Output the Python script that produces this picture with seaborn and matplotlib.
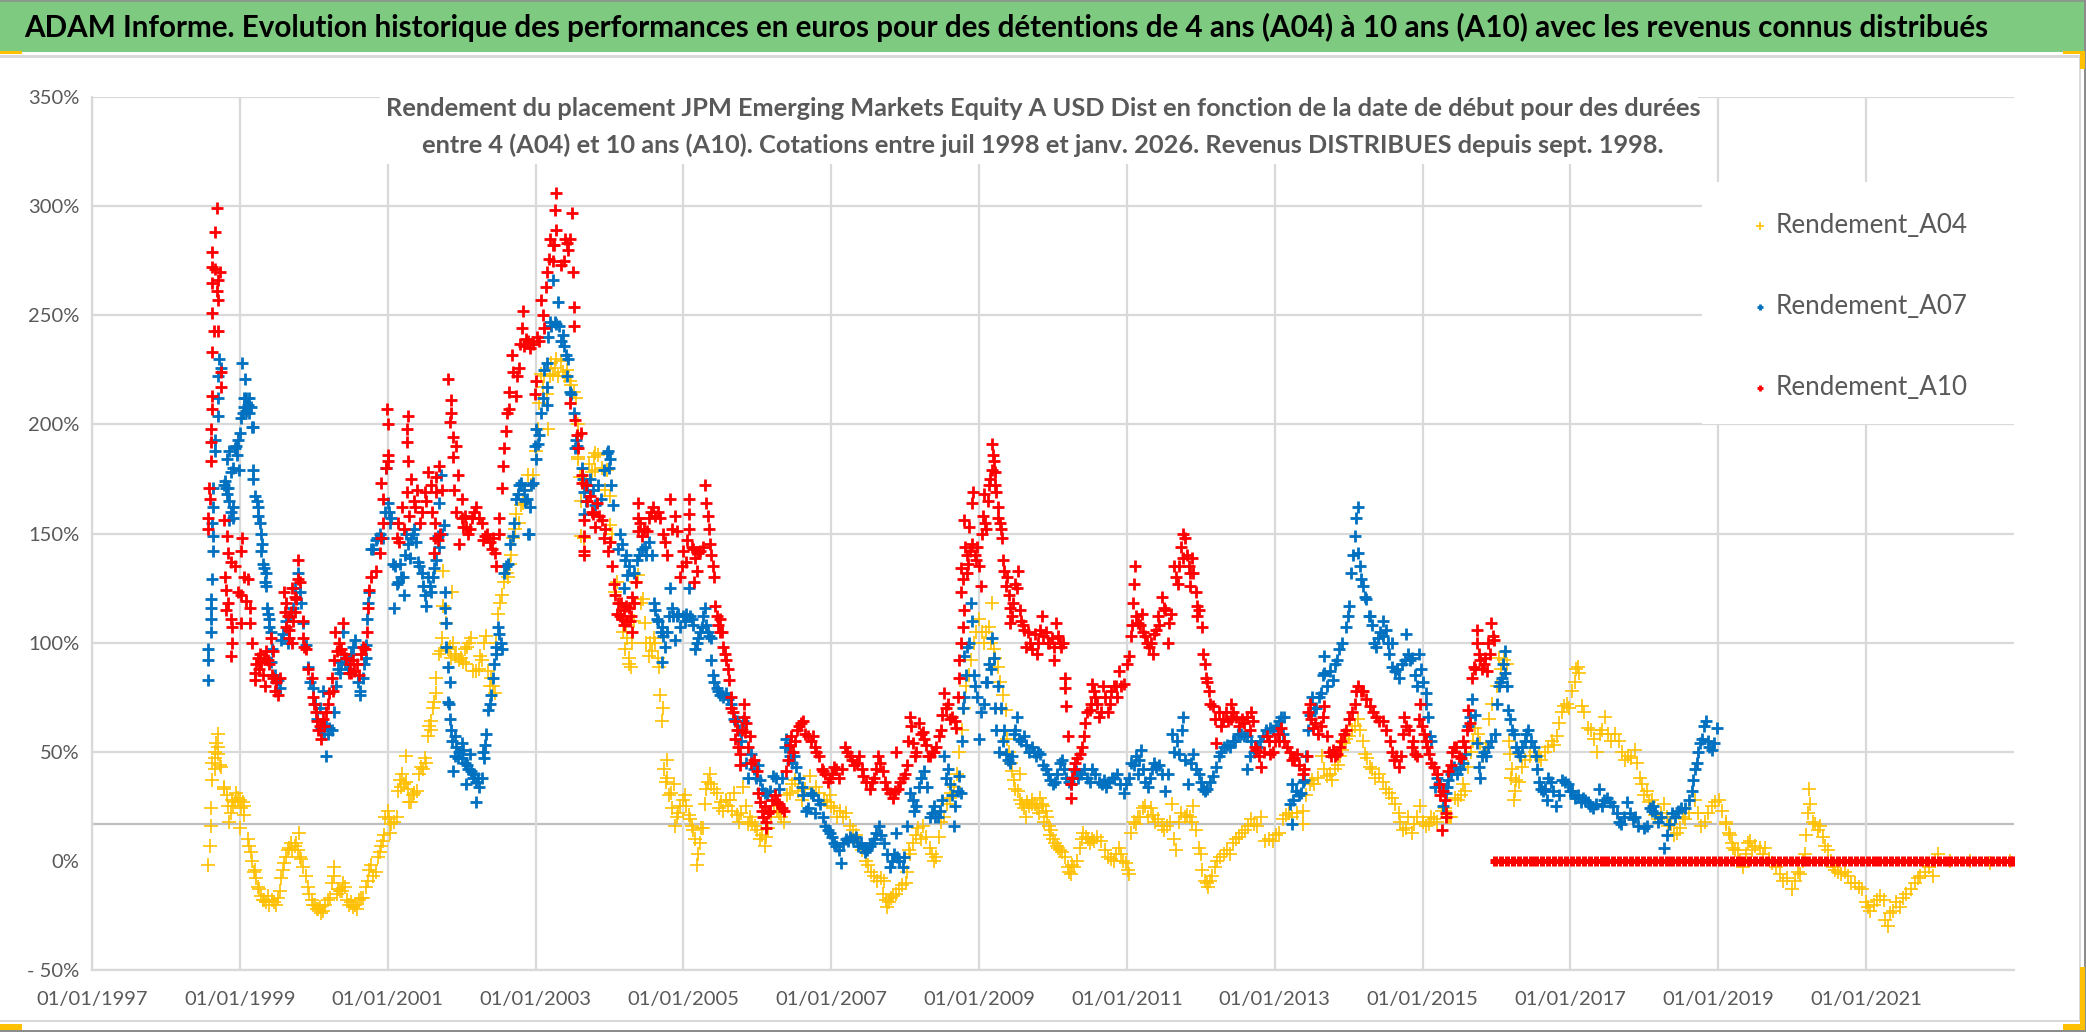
import matplotlib
matplotlib.use("Agg")
import matplotlib.pyplot as plt
from matplotlib.patches import Rectangle
import pandas as pd
import seaborn as sns

# Values: (date as decimal year, return in %)
a04_points = [
    (1998.57,-2),(1998.59,7),(1998.61,16),(1998.61,24),(1998.63,37),(1998.63,45),(1998.70,58),(1998.70,52),(1998.75,43),(1998.66,50),
    (1998.79,34),(1998.86,18),(1998.91,25),(1998.97,29),(1999.04,27),(1999.06,21),(1999.00,15),(1999.11,10),(1999.15,4),(1999.21,-4),
    (1999.24,-12),(1999.33,-18),(1999.40,-20),(1999.49,-20),(1999.54,-14),(1999.58,-4),(1999.65,5),(1999.74,7),(1999.80,13),(1999.83,1),
    (1999.89,-7),(1999.97,-18),(2000.06,-22),(2000.12,-23),(2000.19,-18),(2000.28,-3),(2000.35,-14),(2000.42,-12),(2000.53,-21),(2000.64,-17),
    (2000.73,-9),(2000.75,-4),(2000.84,-5),(2000.91,7),(2001.00,23),(2001.03,13),(2001.12,20),(2001.16,37),(2001.25,48),(2001.25,36),
    (2001.32,27),(2001.39,32),(2001.45,43),(2001.52,45),(2001.54,57),(2001.59,64),(2001.63,73),(2001.66,84),(2001.70,95),(2001.75,117),
    (2001.75,133),(2001.87,123),(2001.79,109),(2001.84,98),(2001.93,95),(2002.04,97),(2002.13,102),(2002.06,90),(2002.20,87),(2002.27,92),
    (2002.33,103),(2002.40,84),(2002.45,77),(2002.49,113),(2002.63,130),(2002.65,136),(2002.72,152),(2002.74,159),(2002.83,164),(2002.97,177),
    (2003.00,188),(2003.08,223),(2003.15,214),(2003.17,198),(2003.24,223),(2003.28,230),(2003.37,224),(2003.48,218),(2003.55,212),(2003.57,184),
    (2003.66,148),(2003.80,187),(2003.62,149),(2003.58,185),(2003.79,185),(2003.81,179),(2003.97,179),(2004.01,167),(2004.01,154),(2003.65,148),
    (2004.08,123),(2004.39,131),(2004.45,120),(2004.48,109),(2004.24,102),(2004.26,93),(2004.29,89),(2004.55,100),(2004.62,100),(2004.53,94),
    (2004.67,89),(2004.69,76),(2004.72,70),(2004.71,64),(2004.78,46),(2004.78,38),(2004.87,35),(2004.80,30),(2005.02,30),(2004.91,20),
    (2004.89,16),(2005.07,21),(2005.11,16),(2005.26,15),(2005.20,3),(2005.19,-2),(2005.29,26),(2005.36,40),(2005.45,31),(2005.54,23),
    (2005.63,28),(2005.72,21),(2005.81,34),(2005.90,20),(2005.97,16),(2006.10,7),(2006.12,11),(2006.26,23),(2006.36,18),(2006.44,31),
    (2006.51,37),(2006.71,39),(2006.84,31),(2006.98,30),(2007.04,24),(2007.16,20),(2007.25,16),(2007.38,8),(2007.47,0),(2007.58,-7),
    (2007.72,-9),(2007.76,-21),(2007.83,-16),(2007.92,-13),(2008.01,-10),(2008.03,-5),(2008.10,8),(2008.24,16),(2008.28,11),(2008.39,0),
    (2008.46,11),(2008.57,26),(2008.62,31),(2008.73,50),(2008.82,80),(2008.89,92),(2009.00,111),(2009.13,107),(2009.17,118),(2009.20,97),
    (2009.25,89),(2009.36,69),(2009.38,56),(2009.45,41),(2009.49,33),(2009.58,26),(2009.72,28),(2009.85,26),(2009.94,16),(2010.03,8),
    (2009.56,40),(2009.63,20),(2009.71,26),(2009.83,29),(2009.90,23),(2009.97,14),(2010.07,6),(2010.16,2),(2010.24,-6),(2010.33,0),
    (2010.41,13),(2010.50,8),(2010.65,9),(2010.82,0),(2010.89,6),(2010.99,-1),(2011.03,-6),(2011.06,13),(2011.15,20),(2011.25,25),
    (2011.32,24),(2011.47,16),(2011.61,26),(2011.66,5),(2011.78,20),(2011.90,25),(2011.93,14),(2012.00,3),(2012.02,-4),(2012.10,-12),
    (2012.19,-3),(2012.31,3),(2012.43,8),(2012.56,13),(2012.68,19),(2012.81,20),(2012.87,9),(2012.97,9),(2013.11,19),(2013.23,20),
    (2013.38,23),(2013.38,17),(2013.47,35),(2013.64,48),(2013.71,39),(2013.81,42),(2013.91,51),(2014.01,57),(2014.13,65),(2014.20,55),
    (2014.22,49),(2014.29,43),(2014.41,40),(2014.58,29),(2014.68,22),(2014.73,14),(2014.85,13),(2014.97,25),(2015.04,16),(2015.16,19),
    (2015.26,23),(2015.38,20),(2015.37,20),(2015.44,29),(2015.58,32),(2015.62,43),(2015.71,61),(2015.78,54),(2015.94,72),(2016.00,80),
    (2016.03,93),(2016.14,90),(2016.18,49),(2016.21,42),(2016.23,28),(2016.27,37),(2016.39,46),(2016.57,48),(2016.70,52),(2016.82,57),
    (2016.84,63),(2016.91,71),(2017.02,78),(2017.10,89),(2017.15,71),(2017.24,61),(2017.36,50),(2017.47,66),(2017.51,58),(2017.65,55),
    (2017.74,46),(2017.87,51),(2017.94,38),(2018.03,32),(2018.10,28),(2018.26,26),(2018.32,16),(2018.44,13),(2018.55,19),(2018.68,28),
    (2018.77,16),(2018.91,25),(2019.01,28),(2019.11,17),(2019.16,12),(2019.20,6),(2019.26,5),(2019.33,-3),(2019.43,9),(2019.63,6),
    (2019.73,-1),(2019.83,-6),(2020.00,-13),(2020.11,-6),(2020.17,3),(2020.23,33),(2020.24,26),(2020.31,17),(2020.19,12),(2020.41,11),
    (2020.48,5),(2020.58,-4),(2020.75,-7),(2020.85,-10),(2020.95,-13),(2021.05,-23),(2021.19,-16),(2021.29,-30),(2021.36,-23),(2021.46,-21),
    (2021.60,-13),(2021.73,-7),(2021.90,-7),(2021.97,3),(2022.14,0),(2022.41,0),(2022.68,-1),(2022.95,0),
    # second pass over the dense part of the ribbon
    (1998.66,42),(1998.67,47),(1998.68,54),(1998.71,49),(1998.73,44),(1998.78,33),(1998.82,30),(1998.84,25),(1998.88,22),(1998.90,28),
    (1998.93,27),(1998.95,31),(1999.00,28),(1999.02,24),(1999.05,25),(1999.13,7),(1999.17,0),(1999.19,-5),(1999.22,-8),(1999.26,-13),
    (1999.29,-16),(1999.31,-18),(1999.36,-19),(1999.38,-16),(1999.43,-18),(1999.46,-19),(1999.51,-17),(1999.56,-8),(1999.60,-1),(1999.62,2),
    (1999.67,6),(1999.69,8),(1999.71,5),(1999.76,8),(1999.78,5),(1999.81,2),(1999.86,-3),(1999.92,-12),(1999.94,-15),(1999.99,-20),
    (2000.02,-20),(2000.04,-22),(2000.08,-21),(2000.10,-24),(2000.15,-20),(2000.22,-17),(2000.25,-10),(2000.27,-7),(2000.31,-15),(2000.33,-13),
    (2000.38,-14),(2000.40,-10),(2000.45,-18),(2000.48,-20),(2000.50,-19),(2000.56,-20),(2000.59,-22),(2000.61,-18),(2000.67,-17),(2000.70,-12),
    (2000.78,-2),(2000.80,-7),(2000.87,2),(2000.89,4),(2000.93,9),(2000.95,12),(2000.97,20),(2001.02,19),(2001.05,17),(2001.08,18),
    (2001.14,32),(2001.18,34),(2001.20,40),(2001.22,35),(2001.27,33),(2001.29,27),(2001.34,30),(2001.36,31),(2001.42,40),(2001.48,42),
    (2001.50,47),(2001.56,62),(2001.58,60),(2001.61,70),(2001.65,77),(2001.72,96),(2001.74,102),(2001.82,97),(2001.86,93),(2001.89,100),
    (2001.91,94),(2001.96,92),(2001.99,93),(2002.02,91),(2002.07,98),(2002.10,100),(2002.16,87),(2002.23,88),(2002.25,94),(2002.30,100),
    (2002.36,87),(2002.38,80),(2002.42,80),(2002.47,100),(2002.52,118),(2002.55,122),(2002.58,128),(2002.61,132),(2002.67,140),(2002.70,148),
    (2002.77,155),(2002.80,163),(2002.86,170),(2002.90,177),(2002.94,172),(2003.03,198),(2003.05,210),(2003.10,217),(2003.12,222),(2003.19,222),
    (2003.21,228),(2003.26,226),(2003.31,222),(2003.34,229),(2003.40,222),(2003.43,225),(2003.46,220),(2003.52,215),(2003.58,200),(2003.60,176),
    (2003.62,165),(2003.72,182),(2003.76,178),(2003.84,186),(2003.90,180),(2003.94,170),(2004.04,150),(2004.10,128),(2004.14,118),(2004.18,105),
    (2004.21,97),(2004.23,108),(2004.27,90),(2004.30,100),(2004.33,110),(2004.36,128),(2004.42,118),(2004.50,100),(2004.57,96),(2004.60,102),
    (2004.65,93),(2004.74,42),(2004.76,36),(2004.83,31),(2004.85,24),(2004.93,22),(2004.95,25),(2004.99,28),(2005.04,25),(2005.09,19),
    (2005.13,14),(2005.16,10),(2005.22,8),(2005.24,15),(2005.31,33),(2005.33,36),(2005.38,35),(2005.41,33),(2005.48,24),(2005.51,27),
    (2005.57,28),(2005.60,25),(2005.66,23),(2005.69,31),(2005.75,18),(2005.78,22),(2005.85,25),(2005.88,17),(2005.93,18),(2006.00,14),
    (2006.03,10),(2006.07,12),(2006.15,15),(2006.19,20),(2006.22,25),(2006.29,22),(2006.32,20),(2006.40,30),(2006.47,35),(2006.55,32),
    (2006.60,28),(2006.65,33),(2006.75,30),(2006.80,34),(2006.90,28),(2006.94,27),(2007.00,25),(2007.08,20),(2007.12,23),(2007.20,22),
    (2007.30,14),(2007.34,12),(2007.42,5),(2007.50,-2),(2007.54,-5),(2007.62,-9),(2007.67,-8),(2007.70,-15),(2007.74,-18),(2007.78,-19),
    (2007.81,-17),(2007.87,-15),(2007.96,-11),(2008.05,5),(2008.07,3),(2008.14,12),(2008.18,15),(2008.21,10),(2008.33,6),(2008.36,3),
    (2008.42,2),(2008.49,18),(2008.53,20),(2008.60,29),(2008.66,34),(2008.70,40),(2008.77,60),(2008.79,70),(2008.86,85),(2008.93,100),
    (2008.96,105),(2009.04,105),(2009.07,100),(2009.10,105),(2009.16,100),(2009.22,93),(2009.28,82),(2009.32,76),(2009.40,50),(2009.43,45),
    (2009.47,37),(2009.52,32),(2009.55,28),(2009.61,24),(2009.65,27),(2009.68,25),(2009.75,26),(2009.78,24),(2009.81,22),(2009.87,25),
    (2009.88,18),(2009.92,20),(2009.96,12),(2010.00,10),(2010.05,7),(2010.09,5),(2010.12,4),(2010.20,-3),(2010.22,-5),(2010.26,-2),
    (2010.29,-3),(2010.36,6),(2010.39,10),(2010.44,11),(2010.47,10),(2010.53,10),(2010.56,9),(2010.60,11),(2010.70,5),(2010.74,2),
    (2010.78,1),(2010.85,3),(2010.92,3),(2010.95,0),(2011.01,-4),(2011.09,18),(2011.12,17),(2011.18,20),(2011.22,24),(2011.28,20),
    (2011.35,21),(2011.38,18),(2011.42,19),(2011.50,14),(2011.54,16),(2011.58,18),(2011.64,10),(2011.70,18),(2011.73,22),(2011.81,21),
    (2011.85,20),(2011.88,18),(2011.97,6),(2012.05,-9),(2012.08,-10),(2012.12,-9),(2012.15,-7),(2012.22,0),(2012.26,2),(2012.36,5),
    (2012.40,3),(2012.48,10),(2012.52,11),(2012.60,14),(2012.64,16),(2012.72,17),(2012.76,16),(2012.92,10),(2013.02,12),(2013.06,13),
    (2013.15,21),(2013.19,22),(2013.30,22),(2013.42,30),(2013.50,37),(2013.53,35),(2013.58,38),(2013.66,42),(2013.75,40),(2013.78,37),
    (2013.85,44),(2013.88,48),(2013.94,54),(2013.97,56),(2014.05,60),(2014.09,62),(2014.15,60),(2014.25,47),(2014.32,42),(2014.36,38),
    (2014.46,36),(2014.50,33),(2014.54,31),(2014.63,26),(2014.70,18),(2014.77,15),(2014.80,20),(2014.89,17),(2014.93,20),(2015.00,18),
    (2015.08,17),(2015.12,20),(2015.20,18),(2015.30,24),(2015.34,20),(2015.48,28),(2015.52,30),(2015.55,35),(2015.65,50),(2015.68,55),
    (2015.75,58),(2015.82,48),(2015.86,52),(2015.90,65),(2016.06,88),(2016.10,92),(2016.17,55),(2016.19,38),(2016.25,32),(2016.30,36),
    (2016.35,43),(2016.45,48),(2016.52,50),(2016.60,46),(2016.65,50),(2016.75,55),(2016.78,53),(2016.88,68),(2016.95,72),(2016.98,70),
    (2017.06,82),(2017.08,88),(2017.12,86),(2017.18,68),(2017.28,60),(2017.32,56),(2017.40,58),(2017.43,60),(2017.55,55),(2017.60,58),
    (2017.70,50),(2017.78,48),(2017.82,47),(2017.90,45),(2017.97,35),(2018.00,30),(2018.06,27),(2018.14,21),(2018.18,19),(2018.22,22),
    (2018.30,20),(2018.36,17),(2018.40,12),(2018.48,15),(2018.52,20),(2018.60,22),(2018.73,22),(2018.82,18),(2018.86,22),(2018.95,27),
    (2019.05,23),(2019.10,18),(2019.14,13),(2019.18,8),(2019.23,5),(2019.30,0),(2019.37,3),(2019.40,8),(2019.46,5),(2019.50,7),
    (2019.56,6),(2019.60,3),(2019.68,1),(2019.78,-3),(2019.88,-9),(2019.93,-8),(2020.04,-9),(2020.08,-5),(2020.14,0),(2020.21,22),
    (2020.28,18),(2020.35,14),(2020.38,16),(2020.45,7),(2020.52,0),(2020.55,-3),(2020.62,-5),(2020.66,-6),(2020.71,-5),(2020.80,-10),
    (2020.90,-12),(2021.00,-19),(2021.02,-21),(2021.10,-20),(2021.14,-18),(2021.24,-18),(2021.32,-24),(2021.26,-27),(2021.40,-19),(2021.50,-17),
    (2021.54,-15),(2021.66,-10),(2021.70,-8),(2021.80,-5),(2021.85,-3),(2021.93,0),
]

a07_points = [
    (1998.57,83),(1998.57,92),(1998.57,97),(1998.61,105),(1998.61,111),(1998.61,116),(1998.61,120),(1998.62,129),(1998.64,142),(1998.64,149),
    (1998.63,155),(1998.64,162),(1998.64,171),(1998.66,188),(1998.66,193),(1998.70,204),(1998.70,212),(1998.70,222),(1998.72,230),(1998.75,226),
    (1998.79,172),(1998.84,171),(1998.86,165),(1998.91,162),(1998.86,156),(1998.91,157),(1998.82,184),(1998.91,180),(1998.86,188),(1998.93,189),
    (1998.97,193),(1998.99,179),(1999.00,196),(1999.04,205),(1999.06,212),(1999.11,209),(1999.15,208),(1999.07,221),(1999.03,228),(1999.18,199),
    (1999.18,179),(1999.18,175),(1999.21,167),(1999.24,162),(1999.27,155),(1999.28,150),(1999.29,142),(1999.31,136),(1999.35,132),(1999.36,126),
    (1999.37,116),(1999.39,111),(1999.42,105),(1999.42,91),(1999.49,82),(1999.54,79),(1999.56,101),(1999.65,100),(1999.72,116),(1999.78,132),
    (1999.81,123),(1999.85,109),(1999.89,99),(1999.99,79),(2000.08,70),(2000.12,78),(2000.17,62),(2000.17,48),(2000.24,60),(2000.28,68),
    (2000.35,86),(2000.39,105),(2000.51,95),(2000.56,101),(2000.63,76),(2000.66,84),(2000.71,93),(2000.71,99),(2000.72,111),(2000.75,123),
    (2000.78,143),(2000.84,147),(2000.93,148),(2000.98,180),(2001.00,164),(2001.05,157),(2001.07,136),(2001.09,116),(2001.12,127),(2001.21,130),
    (2001.22,122),(2001.16,136),(2001.25,150),(2001.34,150),(2001.30,139),(2001.43,135),(2001.48,126),(2001.52,117),(2001.54,130),(2001.61,130),
    (2001.59,123),(2001.68,149),(2001.70,144),(2001.70,164),(2001.76,154),(2001.72,177),(2001.77,116),(2001.77,123),(2001.79,109),(2001.79,98),
    (2001.81,89),(2001.84,82),(2001.81,73),(2001.84,65),(2001.91,57),(2001.91,48),(2001.88,41),(2002.00,54),(2002.04,45),(2002.11,49),
    (2002.06,35),(2002.13,41),(2002.20,36),(2002.19,27),(2002.27,38),(2002.29,50),(2002.33,58),(2002.36,69),(2002.40,76),(2002.42,84),
    (2002.47,98),(2002.49,107),(2002.55,97),(2002.58,132),(2002.63,136),(2002.69,149),(2002.90,150),(2002.74,166),(2002.81,173),(2002.88,166),
    (2002.97,173),(2002.92,162),(2003.00,198),(2003.03,191),(2003.01,184),(2003.08,205),(2003.15,228),(2003.15,217),(2003.15,209),(2003.19,247),
    (2003.24,266),(2003.28,246),(2003.30,256),(2003.37,241),(2003.39,236),(2003.44,230),(2003.48,214),(2003.55,193),(2003.64,175),(2003.54,189),
    (2003.63,180),(2003.65,169),(2003.65,159),(2003.74,175),(2003.85,172),(2003.96,187),(2004.01,184),(2004.02,172),(2004.05,163),(2003.92,179),
    (2004.12,143),(2004.21,138),(2004.24,131),(2004.19,125),(2004.37,138),(2004.44,143),(2004.53,146),(2004.57,140),(2004.60,118),(2004.64,111),
    (2004.71,107),(2004.78,105),(2004.89,101),(2004.75,98),(2004.71,91),(2004.82,125),(2004.84,116),(2004.93,113),(2004.96,107),(2005.04,113),
    (2005.07,125),(2005.11,111),(2005.16,97),(2005.22,105),(2005.29,116),(2005.31,108),(2005.38,102),(2005.38,92),(2005.40,85),(2005.45,79),
    (2005.54,75),(2005.61,74),(2005.72,64),(2005.81,64),(2005.92,49),(2006.01,44),(2005.88,38),(2006.10,31),(2006.21,39),(2006.30,33),
    (2006.39,56),(2006.44,48),(2006.53,43),(2006.60,34),(2006.66,23),(2006.73,31),(2006.82,28),(2006.89,20),(2006.98,13),(2007.07,7),
    (2007.13,-1),(2007.20,10),(2007.29,10),(2007.40,8),(2007.49,5),(2007.58,10),(2007.65,16),(2007.72,8),(2007.79,-3),(2007.88,13),
    (2007.89,2),(2007.97,-3),(2008.03,16),(2008.06,31),(2008.12,23),(2008.19,34),(2008.26,41),(2008.30,34),(2008.39,25),(2008.33,20),
    (2008.44,20),(2008.53,48),(2008.55,38),(2008.66,16),(2008.64,30),(2008.73,39),(2008.75,31),(2008.80,75),(2008.80,94),(2008.84,98),
    (2008.89,118),(2008.91,110),(2008.93,85),(2009.00,56),(2009.07,72),(2009.11,82),(2009.18,102),(2009.20,93),(2009.25,80),(2009.29,70),
    (2009.37,49),(2009.42,45),(2009.51,66),(2009.61,57),(2009.71,52),(2009.83,49),(2009.90,42),(2010.00,35),(2010.12,46),(2010.24,35),
    (2010.38,40),(2010.53,42),(2010.62,36),(2010.72,34),(2010.86,40),(2010.96,31),(2011.06,45),(2011.19,51),(2011.15,40),(2011.28,34),
    (2011.40,43),(2011.52,32),(2011.61,58),(2011.76,66),(2011.71,49),(2011.83,35),(2011.90,49),(2011.93,42),(2012.05,32),(2012.17,39),
    (2012.24,48),(2012.31,52),(2012.46,55),(2012.58,57),(2012.63,42),(2012.68,55),(2012.80,55),(2012.94,61),(2013.09,66),(2013.23,17),
    (2013.21,26),(2013.23,35),(2013.35,31),(2013.40,37),(2013.45,60),(2013.50,75),(2013.62,77),(2013.67,86),(2013.66,94),(2013.79,83),
    (2013.84,92),(2013.91,100),(2013.96,107),(2014.00,117),(2014.03,132),(2014.08,149),(2014.10,157),(2014.12,162),(2014.13,141),(2014.17,129),
    (2014.22,121),(2014.29,112),(2014.37,98),(2014.46,110),(2014.46,103),(2014.58,100),(2014.58,89),(2014.68,84),(2014.77,104),(2014.83,92),
    (2014.95,95),(2014.92,80),(2015.05,77),(2015.04,72),(2015.10,57),(2015.17,34),(2015.31,31),(2015.35,37),(2015.51,42),(2015.58,49),
    (2015.67,74),(2015.71,67),(2015.78,38),(2015.80,48),(2015.89,52),(2015.98,58),(2016.00,72),(2016.07,84),(2016.11,96),(2016.14,80),
    (2016.16,69),(2016.21,60),(2016.32,48),(2016.43,60),(2016.50,52),(2016.55,42),(2016.63,32),(2016.70,38),(2016.80,25),(2016.88,37),
    (2016.97,35),(2017.06,29),(2017.20,28),(2017.31,24),(2017.38,33),(2017.49,29),(2017.63,22),(2017.69,17),(2017.76,27),(2017.87,20),
    (2018.03,16),(2018.12,25),(2018.23,20),(2018.27,6),(2018.37,22),(2018.50,24),(2018.64,32),(2018.66,37),(2018.71,45),(2018.75,54),
    (2018.83,64),(2018.91,51),(2018.98,61),
    # second pass over the dense part of the ribbon
    (1998.80,174),(1998.81,171),(1998.83,168),(1998.88,160),(1998.88,178),(1998.95,190),(1998.96,186),(1999.02,203),(1999.05,208),(1999.08,206),
    (1999.09,212),(1999.12,205),(1999.13,212),(1999.16,199),(1999.23,165),(1999.25,158),(1999.30,145),(1999.33,134),(1999.34,128),(1999.38,113),
    (1999.40,107),(1999.43,97),(1999.47,85),(1999.51,83),(1999.58,104),(1999.62,110),(1999.68,112),(1999.75,125),(1999.83,118),(1999.92,89),
    (1999.95,82),(2000.02,72),(2000.05,65),(2000.10,61),(2000.14,58),(2000.19,58),(2000.21,61),(2000.30,80),(2000.33,88),(2000.37,91),
    (2000.42,90),(2000.46,88),(2000.48,92),(2000.53,98),(2000.60,82),(2000.62,78),(2000.68,90),(2000.74,118),(2000.80,143),(2000.86,148),
    (2000.90,150),(2000.96,160),(2001.02,160),(2001.03,155),(2001.10,135),(2001.14,128),(2001.18,130),(2001.24,140),(2001.27,145),(2001.31,148),
    (2001.36,152),(2001.38,146),(2001.41,137),(2001.46,132),(2001.50,122),(2001.57,126),(2001.63,134),(2001.66,138),(2001.73,150),(2001.83,72),
    (2001.86,60),(2001.87,55),(2001.93,52),(2001.95,47),(2001.97,50),(2002.01,47),(2002.02,51),(2002.07,44),(2002.09,42),(2002.15,38),
    (2002.17,40),(2002.22,38),(2002.24,34),(2002.30,47),(2002.31,53),(2002.38,72),(2002.44,90),(2002.46,95),(2002.51,104),(2002.53,100),
    (2002.60,135),(2002.66,145),(2002.71,155),(2002.76,168),(2002.78,172),(2002.84,170),(2002.86,165),(2002.94,172),(2002.91,150),(2002.99,190),
    (2003.05,195),(2003.10,212),(2003.12,225),(2003.17,240),(2003.21,245),(2003.26,247),(2003.32,245),(2003.34,238),(2003.41,232),(2003.42,222),
    (2003.46,215),(2003.52,205),(2003.56,190),(2003.68,165),(2003.70,172),(2003.78,170),(2003.80,163),(2003.88,166),(2003.98,188),(2004.00,180),
    (2004.14,150),(2004.17,145),(2004.23,140),(2004.27,135),(2004.33,132),(2004.40,140),(2004.48,144),(2004.50,140),(2004.62,115),(2004.66,110),
    (2004.70,105),(2004.73,103),(2004.80,112),(2004.86,112),(2004.91,112),(2004.99,112),(2005.02,110),(2005.09,112),(2005.13,108),(2005.18,100),
    (2005.20,102),(2005.25,107),(2005.27,112),(2005.33,105),(2005.35,103),(2005.42,82),(2005.47,78),(2005.50,76),(2005.57,77),(2005.64,72),
    (2005.68,65),(2005.75,60),(2005.78,55),(2005.85,45),(2005.95,42),(2005.98,38),(2006.04,37),(2006.07,33),(2006.13,30),(2006.17,32),
    (2006.25,38),(2006.34,38),(2006.37,52),(2006.41,52),(2006.47,45),(2006.50,48),(2006.56,38),(2006.62,30),(2006.69,24),(2006.76,30),
    (2006.78,22),(2006.85,26),(2006.92,16),(2006.95,14),(2007.01,11),(2007.04,8),(2007.10,5),(2007.16,8),(2007.23,9),(2007.26,11),
    (2007.33,11),(2007.36,7),(2007.44,6),(2007.46,4),(2007.53,7),(2007.55,8),(2007.61,13),(2007.68,12),(2007.75,3),(2007.82,0),
    (2007.85,3),(2007.92,0),(2007.99,2),(2008.10,28),(2008.15,25),(2008.22,38),(2008.36,22),(2008.41,20),(2008.47,23),(2008.50,28),
    (2008.58,42),(2008.60,35),(2008.68,25),(2008.71,32),(2008.77,55),(2008.78,70),(2008.82,85),(2008.86,100),(2008.95,80),(2008.97,75),
    (2009.03,68),(2009.09,82),(2009.14,90),(2009.16,88),(2009.22,70),(2009.23,60),(2009.27,50),(2009.32,55),(2009.34,60),(2009.39,46),
    (2009.44,48),(2009.47,58),(2009.49,60),(2009.54,56),(2009.57,55),(2009.64,53),(2009.68,50),(2009.74,50),(2009.77,48),(2009.80,50),
    (2009.86,44),(2009.93,40),(2009.96,37),(2010.03,36),(2010.06,40),(2010.09,45),(2010.15,42),(2010.18,38),(2010.21,36),(2010.27,38),
    (2010.31,41),(2010.34,38),(2010.42,42),(2010.46,38),(2010.50,36),(2010.57,40),(2010.66,35),(2010.69,37),(2010.76,36),(2010.80,38),
    (2010.83,38),(2010.90,35),(2010.99,35),(2011.03,38),(2011.09,44),(2011.12,48),(2011.17,46),(2011.22,42),(2011.25,36),(2011.31,38),
    (2011.34,42),(2011.37,45),(2011.44,44),(2011.48,40),(2011.56,40),(2011.64,50),(2011.68,55),(2011.74,60),(2011.78,46),(2011.87,45),
    (2011.97,40),(2012.00,36),(2012.03,33),(2012.09,33),(2012.13,36),(2012.20,43),(2012.27,50),(2012.35,53),(2012.39,52),(2012.43,55),
    (2012.50,58),(2012.54,58),(2012.62,57),(2012.66,48),(2012.72,50),(2012.76,52),(2012.84,57),(2012.88,60),(2012.98,60),(2013.02,62),
    (2013.06,64),(2013.11,58),(2013.13,66),(2013.25,28),(2013.29,32),(2013.33,30),(2013.38,36),(2013.42,48),(2013.47,67),(2013.53,70),
    (2013.56,70),(2013.60,75),(2013.65,85),(2013.70,80),(2013.75,87),(2013.82,90),(2013.87,97),(2013.99,112),(2014.06,140),(2014.15,135),
    (2014.19,126),(2014.24,120),(2014.27,112),(2014.32,108),(2014.34,100),(2014.40,102),(2014.43,105),(2014.50,106),(2014.53,100),(2014.55,95),
    (2014.62,87),(2014.65,88),(2014.72,90),(2014.76,92),(2014.80,95),(2014.86,93),(2014.90,85),(2014.98,88),(2015.00,82),(2015.07,66),
    (2015.12,55),(2015.20,38),(2015.24,35),(2015.28,25),(2015.33,34),(2015.38,40),(2015.42,43),(2015.47,40),(2015.54,45),(2015.62,62),
    (2015.64,66),(2015.74,54),(2015.76,43),(2015.83,50),(2015.86,48),(2015.93,55),(2016.03,80),(2016.05,82),(2016.09,90),(2016.12,86),
    (2016.18,65),(2016.23,58),(2016.26,52),(2016.29,50),(2016.35,52),(2016.38,55),(2016.40,58),(2016.46,55),(2016.53,48),(2016.58,36),
    (2016.60,33),(2016.66,33),(2016.68,28),(2016.73,36),(2016.76,32),(2016.84,30),(2016.92,36),(2016.99,32),(2017.02,32),(2017.10,30),
    (2017.14,27),(2017.17,29),(2017.24,27),(2017.27,25),(2017.34,26),(2017.42,25),(2017.46,28),(2017.54,27),(2017.58,25),(2017.66,18),
    (2017.72,20),(2017.80,22),(2017.84,19),(2017.92,16),(2017.99,15),(2018.07,24),(2018.10,23),(2018.15,22),(2018.18,18),(2018.30,12),
    (2018.33,17),(2018.42,20),(2018.46,23),(2018.55,24),(2018.60,28),(2018.69,42),(2018.73,50),(2018.78,56),(2018.80,62),(2018.86,55),
    (2018.88,52),(2018.94,54),
]

a10_points = [
    (1998.57,157),(1998.57,152),(1998.58,171),(1998.60,166),(1998.61,183),(1998.61,192),(1998.61,198),(1998.62,207),(1998.62,213),(1998.63,233),
    (1998.65,243),(1998.70,243),(1998.63,251),(1998.70,257),(1998.69,261),(1998.71,266),(1998.63,265),(1998.67,271),(1998.73,270),(1998.63,272),
    (1998.63,279),(1998.66,288),(1998.69,299),(1998.75,224),(1998.75,217),
    (1998.79,156),(1998.83,149),(1998.84,141),(1998.88,137),(1998.93,135),(1999.02,142),(1999.03,148),(1998.80,130),(1998.81,124),(1998.84,118),
    (1998.81,115),(1998.88,111),(1998.90,107),(1998.89,100),(1998.88,94),(1998.97,123),(1999.02,122),(1999.06,130),(1999.11,129),(1999.09,119),
    (1999.14,116),(1999.14,109),(1999.02,109),(1999.17,100),(1999.20,86),(1999.24,93),(1999.29,91),(1999.33,93),(1999.38,92),(1999.20,83),
    (1999.34,80),(1999.45,96),(1999.42,102),(1999.45,84),(1999.49,82),(1999.51,76),(1999.54,84),(1999.60,123),(1999.61,114),(1999.63,107),
    (1999.65,112),(1999.69,114),(1999.74,121),(1999.78,129),(1999.78,138),(1999.81,128),(1999.74,114),(1999.67,102),(1999.85,110),(1999.86,102),
    (1999.89,97),(1999.92,88),(1999.97,84),(1999.99,75),(2000.03,68),(2000.08,62),(2000.10,56),(2000.17,68),(2000.21,77),(2000.26,78),
    (2000.28,92),(2000.29,105),(2000.39,109),(2000.37,97),(2000.44,93),(2000.51,86),(2000.55,87),(2000.64,95),(2000.69,97),(2000.72,105),
    (2000.73,116),(2000.75,124),(2000.78,130),(2000.84,133),(2000.89,141),(2000.91,148),(2000.94,155),(2000.93,166),(2000.91,173),(2000.98,180),
    (2001.00,186),(2001.00,200),(2000.99,207),(2001.00,183),(2001.12,148),(2001.14,155),(2001.19,162),(2001.26,169),(2001.31,175),(2001.28,183),
    (2001.26,192),(2001.26,198),(2001.27,204),(2001.37,162),(2001.44,155),(2001.50,169),(2001.55,178),(2001.66,176),(2001.69,181),(2001.66,169),
    (2001.64,155),(2001.64,148),(2001.62,141),(2001.82,221),(2001.86,211),(2001.86,205),(2001.84,201),(2001.88,194),(2001.93,190),(2001.88,185),
    (2001.95,177),(2002.00,166),(2002.00,157),(2002.02,153),(2001.97,145),(2002.08,150),(2002.14,157),(2002.20,162),(2002.27,155),(2002.31,149),
    (2002.38,146),(2002.45,141),(2002.47,135),(2002.51,150),(2002.51,157),(2002.55,171),(2002.56,181),(2002.58,189),(2002.60,197),(2002.64,207),
    (2002.64,215),(2002.73,213),(2002.75,222),(2002.77,226),(2002.68,232),(2002.82,244),(2002.83,252),(2002.87,239),(2002.96,237),(2003.05,238),
    (2003.00,220),(2002.99,214),(2003.07,257),(2003.12,244),(2003.10,250),(2003.16,270),(2003.23,282),(2003.23,275),(2003.28,289),(2003.27,298),
    (2003.28,306),(2003.35,273),(2003.42,283),(2003.47,285),(2003.49,297),(2003.50,270),(2003.52,254),(2003.52,245),
    (2003.47,210),(2003.54,202),(2003.61,196),(2003.58,189),(2003.63,177),(2003.63,173),(2003.74,167),(2003.83,164),(2003.78,159),(2003.90,156),
    (2003.94,152),(2004.01,146),(2003.65,156),(2003.65,149),(2003.66,142),(2003.66,140),(2004.03,135),(2004.06,127),(2004.12,118),(2004.19,115),
    (2004.26,116),(2004.31,121),(2004.36,128),(2004.19,108),(2004.28,110),(2004.31,105),(2004.17,111),(2004.10,113),(2004.39,164),(2004.38,157),
    (2004.38,151),(2004.44,149),(2004.51,151),(2004.53,157),(2004.62,158),(2004.69,157),(2004.75,146),(2004.78,140),(2004.82,166),(2004.89,158),
    (2004.91,151),(2004.96,130),(2005.07,166),(2005.07,159),(2005.07,152),(2005.04,137),(2005.11,144),(2005.16,139),(2005.20,141),(2005.27,144),
    (2005.18,133),(2005.15,128),(2005.29,172),(2005.30,164),(2005.33,158),(2005.35,152),(2005.36,145),(2005.38,140),(2005.40,135),(2005.41,130),
    (2005.43,117),(2005.50,111),(2005.49,105),(2005.54,98),(2005.56,95),(2005.60,88),(2005.62,83),(2005.64,75),(2005.65,70),(2005.82,72),
    (2005.82,66),(2005.70,64),(2005.83,59),(2005.90,57),(2005.70,56),(2005.76,49),(2005.76,44),(2005.92,45),(2005.99,41),(2006.01,31),
    (2006.06,23),(2006.12,15),(2006.12,18),(2006.17,23),(2006.24,30),(2006.30,26),(2006.36,23),(2006.39,41),(2006.42,46),(2006.48,50),
    (2006.46,57),(2006.57,62),(2006.62,64),(2006.69,57),(2006.75,57),(2006.80,50),(2006.84,48),(2006.89,41),(2006.98,38),(2007.04,43),
    (2007.11,38),(2007.18,52),(2007.25,48),(2007.31,44),(2007.38,48),(2007.43,39),(2007.52,33),(2007.58,38),(2007.63,48),(2007.70,41),
    (2007.76,33),(2007.83,29),(2007.88,50),(2007.90,33),(2007.97,38),(2008.02,44),(2008.06,66),(2008.11,54),(2008.13,48),(2008.19,63),
    (2008.24,59),(2008.28,53),(2008.33,48),(2008.39,50),(2008.46,57),(2008.53,77),(2008.55,70),(2008.50,67),(2008.64,66),(2008.69,61),
    (2008.73,84),(2008.73,92),
    (2008.78,107),(2008.79,115),(2008.76,123),(2008.78,129),(2008.76,134),(2008.84,132),(2008.81,144),(2008.88,142),(2008.97,144),(2008.96,138),
    (2009.00,135),(2009.02,126),(2008.79,156),(2008.87,153),(2008.91,164),(2008.92,169),(2009.05,158),(2009.10,152),(2009.07,168),(2009.13,172),
    (2009.23,169),(2009.25,162),(2009.26,157),(2009.29,152),(2009.31,148),(2009.17,179),(2009.20,183),(2009.17,191),(2009.22,178),(2009.34,133),
    (2009.36,126),(2009.49,127),(2009.53,133),(2009.42,116),(2009.42,109),(2009.56,115),(2009.57,110),(2009.61,106),(2009.63,98),(2009.75,104),
    (2009.78,95),(2009.85,112),(2009.87,103),(2009.95,100),(2010.04,109),(2010.07,103),(2010.02,92),(2010.14,100),(2010.16,84),(2010.16,79),
    (2010.17,71),(2010.20,57),(2010.24,29),(2010.24,35),(2010.28,42),(2010.36,49),(2010.42,57),(2010.43,63),(2010.53,81),(2010.50,69),
    (2010.57,75),(2010.65,68),(2010.67,80),(2010.74,68),(2010.82,80),(2010.86,75),(2010.89,87),(2010.96,81),(2011.03,94),(2011.05,103),
    (2011.08,118),(2011.10,127),(2011.11,135),(2011.15,109),(2011.20,113),(2011.25,103),(2011.35,95),(2011.37,104),(2011.42,112),(2011.47,121),
    (2011.52,115),(2011.57,109),(2011.55,100),(2011.64,135),(2011.69,127),(2011.76,150),(2011.73,144),(2011.76,139),(2011.88,139),(2011.86,132),
    (2011.86,126),(2011.93,123),(2011.95,117),(2011.95,112),(2012.02,107),(2012.03,95),(2012.07,84),(2012.11,78),(2012.16,71),(2012.19,65),
    (2012.21,54),(2012.24,68),(2012.34,68),(2012.41,72),(2012.41,65),(2012.48,66),(2012.55,65),(2012.68,68),(2012.70,64),(2012.75,51),
    (2012.82,43),(2012.89,57),(2012.94,49),(2013.00,55),(2013.09,61),(2013.16,52),(2013.23,46),(2013.30,49),(2013.38,40),(2013.43,48),
    (2013.45,68),(2013.47,72),(2013.52,61),(2013.59,58),(2013.67,71),(2013.71,57),(2013.79,51),(2013.84,49),(2013.93,58),(2014.00,65),
    (2014.08,72),(2014.13,80),(2014.20,78),(2014.29,71),(2014.37,66),(2014.46,64),(2014.56,55),(2014.61,46),(2014.68,43),(2014.75,66),
    (2014.74,58),(2014.87,55),(2014.90,49),(2014.96,72),(2014.95,65),(2015.02,58),(2015.09,49),(2015.19,40),(2015.26,14),(2015.28,32),
    (2015.31,20),(2015.31,22),(2015.35,41),(2015.42,52),(2015.49,48),(2015.55,55),(2015.62,69),(2015.64,63),(2015.67,84),(2015.69,89),
    (2015.74,106),(2015.74,100),(2015.78,92),(2015.85,93),(2015.87,87),(2015.93,109),(2015.96,101),(2015.91,95),
    # second pass over the dense part of the ribbon
    (1999.22,90),(1999.26,88),(1999.27,95),(1999.31,85),(1999.35,96),(1999.40,90),(1999.43,85),(1999.47,78),(1999.62,118),(1999.66,106),
    (1999.70,125),(1999.72,110),(1999.76,120),(1999.71,100),(1999.87,98),(2000.00,72),(2000.05,64),(2000.06,60),(2000.12,65),(2000.14,62),
    (2000.19,72),(2000.24,84),(2000.31,96),(2000.34,100),(2000.41,95),(2000.47,86),(2000.49,90),(2000.53,92),(2000.58,90),(2000.61,85),
    (2000.66,98),(2001.15,146),(2001.22,152),(2001.29,158),(2001.35,165),(2001.40,170),(2001.47,160),(2001.52,165),(2001.58,172),(2001.60,160),
    (2001.68,147),(2001.71,150),(2001.73,170),(2001.90,170),(2001.92,160),(2002.04,158),(2002.06,153),(2002.11,152),(2002.17,160),(2002.23,157),
    (2002.29,147),(2002.34,150),(2002.41,143),(2002.43,148),(2002.62,205),(2002.70,224),(2002.79,237),(2002.85,236),(2002.90,238),(2002.93,235),
    (2003.02,240),(2003.14,263),(2003.18,276),(2003.20,285),(2003.25,282),(2003.38,275),(2003.40,285),(2003.44,280),(2003.56,195),(2003.68,172),
    (2003.70,165),(2003.76,160),(2003.81,153),(2003.86,158),(2003.92,148),(2003.98,142),(2004.08,122),(2004.14,112),(2004.16,118),(2004.22,117),
    (2004.24,110),(2004.29,112),(2004.33,118),(2004.41,155),(2004.47,152),(2004.56,160),(2004.59,162),(2004.65,160),(2004.72,150),(2004.85,152),
    (2004.98,135),(2005.00,142),(2005.05,147),(2005.13,143),(2005.23,142),(2005.45,112),(2005.47,108),(2005.52,105),(2005.58,92),(2005.67,68),
    (2005.72,60),(2005.74,52),(2005.79,60),(2005.85,63),(2005.88,52),(2005.95,46),(2006.03,27),(2006.08,20),(2006.10,25),(2006.14,22),
    (2006.20,28),(2006.27,27),(2006.33,24),(2006.44,53),(2006.51,55),(2006.54,60),(2006.59,63),(2006.65,58),(2006.72,55),(2006.78,52),
    (2006.87,42),(2006.92,40),(2006.95,36),(2007.01,40),(2007.07,42),(2007.14,42),(2007.21,50),(2007.28,46),(2007.35,45),(2007.41,42),
    (2007.47,36),(2007.55,36),(2007.60,42),(2007.66,45),(2007.73,36),(2007.79,31),(2007.86,32),(2007.93,36),(2008.00,40),(2008.04,55),
    (2008.08,62),(2008.15,50),(2008.21,58),(2008.26,56),(2008.31,48),(2008.36,50),(2008.42,52),(2008.48,60),(2008.58,72),(2008.61,65),
    (2008.67,64),(2008.71,75),(2008.75,100),(2008.83,140),(2008.85,136),(2008.90,145),(2008.94,140),(2009.04,150),(2009.08,155),(2009.12,165),
    (2009.15,175),(2009.19,186),(2009.21,172),(2009.28,155),(2009.33,138),(2009.38,130),(2009.40,122),(2009.44,112),(2009.46,118),(2009.51,125),
    (2009.59,108),(2009.66,105),(2009.69,100),(2009.72,97),(2009.80,100),(2009.83,106),(2009.90,105),(2009.93,100),(2009.99,102),(2010.01,98),
    (2010.09,100),(2010.11,98),(2010.26,38),(2010.30,45),(2010.33,47),(2010.39,52),(2010.46,68),(2010.52,72),(2010.55,78),(2010.60,72),
    (2010.62,66),(2010.70,75),(2010.77,72),(2010.79,78),(2010.85,80),(2010.92,80),(2011.00,90),(2011.07,108),(2011.12,112),(2011.18,108),
    (2011.22,105),(2011.27,100),(2011.30,98),(2011.33,100),(2011.40,106),(2011.44,108),(2011.50,116),(2011.60,113),(2011.66,130),(2011.71,135),
    (2011.78,148),(2011.81,140),(2011.84,135),(2011.90,132),(2011.97,115),(2012.05,90),(2012.09,82),(2012.13,72),(2012.27,62),(2012.30,65),
    (2012.37,64),(2012.44,68),(2012.51,62),(2012.58,63),(2012.62,66),(2012.66,60),(2012.73,52),(2012.78,48),(2012.85,50),(2012.92,55),
    (2012.97,50),(2013.04,58),(2013.06,55),(2013.12,55),(2013.20,50),(2013.26,47),(2013.33,44),(2013.40,42),(2013.49,65),(2013.55,63),
    (2013.62,62),(2013.65,66),(2013.74,50),(2013.76,48),(2013.82,48),(2013.88,52),(2013.90,55),(2013.96,60),(2014.04,68),(2014.10,78),
    (2014.16,78),(2014.24,74),(2014.33,68),(2014.41,64),(2014.51,60),(2014.58,50),(2014.64,48),(2014.71,48),(2014.78,62),(2014.82,60),
    (2014.85,52),(2014.92,48),(2014.99,62),(2015.04,55),(2015.06,52),(2015.12,45),(2015.15,43),(2015.22,35),(2015.24,30),(2015.30,28),
    (2015.38,44),(2015.40,50),(2015.45,52),(2015.52,47),(2015.58,52),(2015.60,60),(2015.71,88),(2015.76,95),(2015.80,88),(2015.83,90),
    (2015.89,100),(2015.95,103),
]

# A10 sits on 0 % for every start date whose 10 year term has not ended yet
a10_flat_dates = [
    2015.98,2016.06,2016.14,2016.22,2016.30,2016.38,2016.46,2016.54,2016.62,2016.70,2016.78,2016.86,2016.94,
    2017.02,2017.10,2017.18,2017.26,2017.34,2017.42,2017.50,2017.58,2017.66,2017.74,2017.82,2017.90,2017.98,
    2018.06,2018.14,2018.22,2018.30,2018.38,2018.46,2018.54,2018.62,2018.70,2018.78,2018.86,2018.94,
    2019.02,2019.10,2019.18,2019.26,2019.34,2019.42,2019.50,2019.58,2019.66,2019.74,2019.82,2019.90,2019.98,
    2020.06,2020.14,2020.22,2020.30,2020.38,2020.46,2020.54,2020.62,2020.70,2020.78,2020.86,2020.94,
    2021.02,2021.10,2021.18,2021.26,2021.34,2021.42,2021.50,2021.58,2021.66,2021.74,2021.82,2021.90,2021.98,
    2022.06,2022.14,2022.22,2022.30,2022.38,2022.46,2022.54,2022.62,2022.70,2022.78,2022.86,2022.94,2022.99,
]

x_ticks = [1997, 1999, 2001, 2003, 2005, 2007, 2009, 2011, 2013, 2015, 2017, 2019, 2021]
x_labels = ["01/01/%d" % y for y in x_ticks]
y_ticks = [-50, 0, 50, 100, 150, 200, 250, 300, 350]
y_labels = ["- 50%", "0%", "50%", "100%", "150%", "200%", "250%", "300%", "350%"]
# the horizontal lines of the picture: no line at 0 %, an odd one near 17 %
grid_levels = [-50, 50, 100, 150, 200, 250, 300, 350]
odd_level = 16.7

TITLE = ("ADAM Informe. Evolution historique des performances en euros pour des détentions "
         "de 4 ans (A04) à 10 ans (A10) avec les revenus connus distribués")
SUBTITLE = ("Rendement du placement JPM Emerging Markets Equity A USD Dist en fonction de la date de début pour des durées\n"
            "entre 4 (A04) et 10 ans (A10). Cotations entre juil 1998 et janv. 2026. Revenus DISTRIBUES depuis sept. 1998.")

YELLOW = "#FFC000"
BLUE = "#0070C0"
RED = "#FF0000"
GRID = "#D9D9D9"
TEXT = "#595959"

sns.set_theme(style="white")
plt.rcParams["font.family"] = ["Lato", "DejaVu Sans"]

W, H = 2086, 1032
fig = plt.figure(figsize=(W / 100, H / 100), dpi=100)
ax = fig.add_axes([92 / W, 1 - 970 / H, (2014 - 92) / W, (970 - 97) / H])


def rect(x0, y0, x1, y1, color, zorder=1):
    fig.add_artist(Rectangle((x0 / W, 1 - y1 / H), (x1 - x0) / W, (y1 - y0) / H,
                             transform=fig.transFigure, color=color, lw=0, zorder=zorder))


# page frame and green header
rect(0, 0, W, 52, "#7DCA80")
rect(0, 0, W, 1.5, "#8A9A8A")
rect(0, 55, 2080, 58, "#D9D9D9")
rect(0, 1020, 2080, 1022, "#D9D9D9")
rect(2079, 56, 2081, 1022, "#D9D9D9")
rect(0, 1030, W, 1032, "#8C8C8C")
rect(2084, 0, W, H, "#8C8C8C")
rect(0, 51, 22, 54, YELLOW, 2)
rect(2063, 51, 2085, 54, YELLOW, 2)
rect(2080, 51, 2085, 69, YELLOW, 2)
rect(0, 1024, 22, 1030, YELLOW, 2)
rect(2063, 1024, 2085, 1030, YELLOW, 2)
rect(2080, 967, 2085, 1030, YELLOW, 2)

df04 = pd.DataFrame(a04_points, columns=["date", "rendement"])
df07 = pd.DataFrame(a07_points, columns=["date", "rendement"])
df10 = pd.DataFrame(a10_points, columns=["date", "rendement"])
df10_flat = pd.DataFrame({"date": a10_flat_dates, "rendement": [0] * len(a10_flat_dates)})

sns.scatterplot(data=df04, x="date", y="rendement", marker="+", s=105, color=YELLOW, linewidth=1.2, ax=ax, zorder=3, label="Rendement_A04")
sns.scatterplot(data=df07, x="date", y="rendement", marker="+", s=68, color=BLUE, linewidth=2.0, ax=ax, zorder=4, label="Rendement_A07")
sns.scatterplot(data=df10, x="date", y="rendement", marker="+", s=68, color=RED, linewidth=2.0, ax=ax, zorder=5, label="Rendement_A10")
# thick strokes so the flat run closes into a solid band
sns.scatterplot(data=df10_flat, x="date", y="rendement", marker="+", s=60, color=RED, linewidth=3.6, ax=ax, zorder=5, legend=False)

ax.set_xlim(1997, 2023)
ax.set_ylim(-50, 350)
ax.set_xticks(x_ticks, x_labels)
ax.set_yticks(y_ticks, y_labels)
ax.set_xlabel("")
ax.set_ylabel("")
ax.tick_params(axis="both", length=0, labelsize=14.5, labelcolor=TEXT, pad=9)
ax.tick_params(axis="x", pad=15)

for level in grid_levels:
    ax.axhline(level, color=GRID, lw=1.6, zorder=1)
ax.axhline(odd_level, color="#BFBFBF", lw=1.6, zorder=1)
for tick in x_ticks:
    ax.axvline(tick, color=GRID, lw=1.6, zorder=1)

sns.despine(ax=ax, top=True, right=True)
for side in ("left", "bottom"):
    ax.spines[side].set_color(GRID)
    ax.spines[side].set_linewidth(1.6)

# white boxes behind the chart title and the legend break the gridlines
ax.add_patch(Rectangle((380 / W, 1 - 164 / H), (1698 - 380) / W, 70 / H, transform=fig.transFigure,
                       color="white", lw=0, zorder=2))
ax.add_patch(Rectangle((1702 / W, 1 - 424 / H), (2016 - 1702) / W, (424 - 182) / H, transform=fig.transFigure,
                       color="white", lw=0, zorder=2))

fig.text(1006 / W, 1 - 27 / H, TITLE, ha="center", va="center", fontsize=21.3, fontweight="bold", color="black")
fig.text(1043 / W, 1 - 127 / H, SUBTITLE, ha="center", va="center", fontsize=18.3, fontweight="bold",
         color=TEXT, linespacing=1.7, zorder=6)

leg = ax.legend(loc="upper left", bbox_to_anchor=(1734 / W, 1 - 200 / H), bbox_transform=fig.transFigure,
                frameon=False, fontsize=18.7, labelcolor=TEXT, markerscale=0.55,
                labelspacing=2.15, handletextpad=0.1, handlelength=1.0, borderpad=0)
leg.set_zorder(6)

fig.savefig("out.png", dpi=100)
plt.close(fig)
